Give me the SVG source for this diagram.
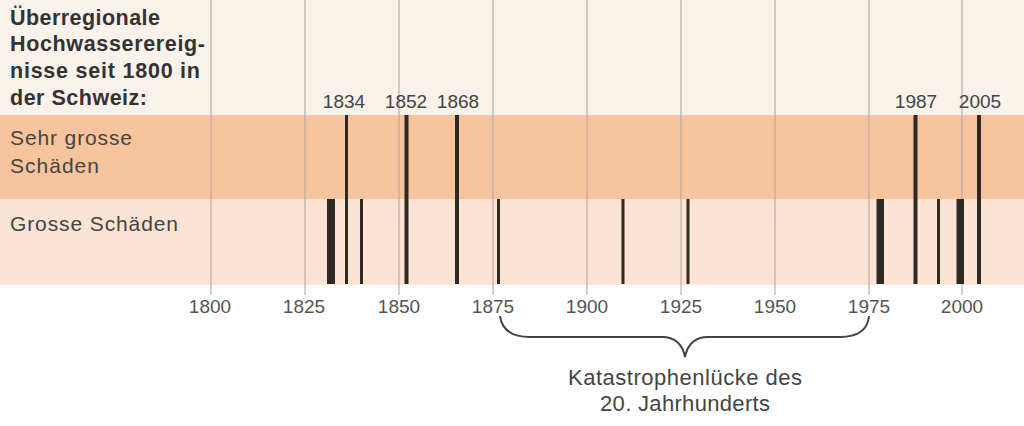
<svg xmlns="http://www.w3.org/2000/svg" width="1024" height="426" viewBox="0 0 1024 426">
<style>
.grid{stroke:#aaa49e;stroke-width:1}
.bar{fill:#2e2a26}
.t{font-family:"Liberation Sans",Arial,sans-serif;fill:#3a3a3a}
.title{font-size:21.5px;font-weight:bold;fill:#333}
.cat{font-size:21px;fill:#444}
.yr{font-size:19px;fill:#444;text-anchor:middle}
.ax{font-size:19px;fill:#555;text-anchor:middle}
.cap{font-size:22px;fill:#444;text-anchor:middle}
</style>
<rect x="0" y="0" width="1024" height="426" fill="#ffffff"/>
<g id="bands">
<rect x="0" y="0" width="1024" height="115" fill="#f8f2ea"/>
<rect x="0" y="115" width="1024" height="84" fill="#f8c49d"/>
<rect x="0" y="199" width="1024" height="86" fill="#fce3d3"/>
</g>
<g id="grid">
<line class="grid" x1="211" y1="0" x2="211" y2="295"/>
<line class="grid" x1="305" y1="0" x2="305" y2="295"/>
<line class="grid" x1="399" y1="0" x2="399" y2="295"/>
<line class="grid" x1="493" y1="0" x2="493" y2="295"/>
<line class="grid" x1="587" y1="0" x2="587" y2="295"/>
<line class="grid" x1="681" y1="0" x2="681" y2="295"/>
<line class="grid" x1="775" y1="0" x2="775" y2="295"/>
<line class="grid" x1="869" y1="0" x2="869" y2="295"/>
<line class="grid" x1="962" y1="0" x2="962" y2="295"/>
</g>
<g id="title">
<text class="t title" x="10" y="25" textLength="150" lengthAdjust="spacing">Überregionale</text>
<text class="t title" x="10" y="51" textLength="195" lengthAdjust="spacing">Hochwasserereig-</text>
<text class="t title" x="10" y="78" textLength="190" lengthAdjust="spacing">nisse seit 1800 in</text>
<text class="t title" x="10" y="105" textLength="137" lengthAdjust="spacing">der Schweiz:</text>
</g>
<g id="categories">
<text class="t cat" x="10" y="145" textLength="122" lengthAdjust="spacing">Sehr grosse</text>
<text class="t cat" x="10" y="173" textLength="89" lengthAdjust="spacing">Schäden</text>
<text class="t cat" x="10" y="231" textLength="168" lengthAdjust="spacing">Grosse Schäden</text>
</g>
<g id="very-large">
<rect class="bar" x="345" y="115" width="3" height="169"/>
<rect class="bar" x="404.5" y="115" width="4" height="169"/>
<rect class="bar" x="455" y="115" width="4" height="169"/>
<rect class="bar" x="913.5" y="115" width="4" height="169"/>
<rect class="bar" x="977" y="115" width="4" height="169"/>
</g>
<g id="large">
<rect class="bar" x="327" y="199" width="8" height="85"/>
<rect class="bar" x="360" y="199" width="3" height="85"/>
<rect class="bar" x="497" y="199" width="3" height="85"/>
<rect class="bar" x="621.5" y="199" width="3" height="85"/>
<rect class="bar" x="686.5" y="199" width="3" height="85"/>
<rect class="bar" x="876.5" y="199" width="7.5" height="85"/>
<rect class="bar" x="937" y="199" width="3" height="85"/>
<rect class="bar" x="956.5" y="199" width="7.5" height="85"/>
</g>
<g id="year-labels">
<text class="t yr" x="344" y="108">1834</text>
<text class="t yr" x="406" y="108">1852</text>
<text class="t yr" x="458" y="108">1868</text>
<text class="t yr" x="916" y="108">1987</text>
<text class="t yr" x="980" y="108">2005</text>
</g>
<g id="axis">
<text class="t ax" x="210" y="313">1800</text>
<text class="t ax" x="304" y="313">1825</text>
<text class="t ax" x="399" y="313">1850</text>
<text class="t ax" x="493" y="313">1875</text>
<text class="t ax" x="587" y="313">1900</text>
<text class="t ax" x="681" y="313">1925</text>
<text class="t ax" x="775" y="313">1950</text>
<text class="t ax" x="869" y="313">1975</text>
<text class="t ax" x="962" y="313">2000</text>
</g>
<g id="connectors">
<path d="M500,316 Q503,337 530,337 L662,337 Q681,337 685,357 Q689,337 708,337 L840,337 Q867,337 869,316" fill="none" stroke="#444" stroke-width="2"/>
</g>
<g id="caption">
<text class="t cap" x="685" y="385" textLength="234" lengthAdjust="spacing">Katastrophenlücke des</text>
<text class="t cap" x="685" y="411" textLength="170" lengthAdjust="spacing">20. Jahrhunderts</text>
</g>
</svg>
